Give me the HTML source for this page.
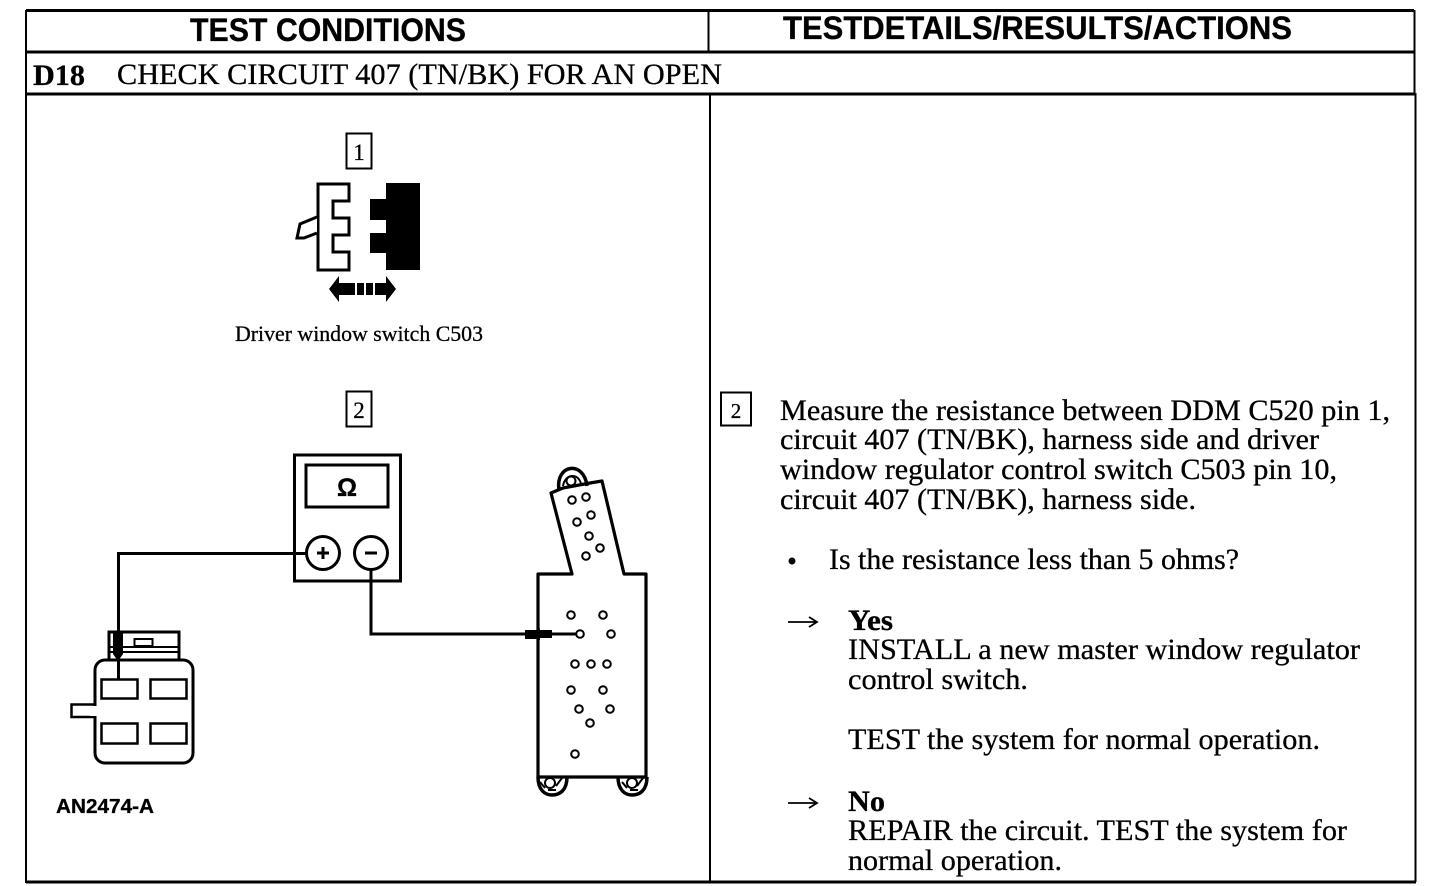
<!DOCTYPE html>
<html>
<head>
<meta charset="utf-8">
<style>
html,body{margin:0;padding:0;background:#fff;width:1456px;height:886px;overflow:hidden}
svg{display:block}
.s{font-family:"Liberation Serif",serif;fill:#000;stroke:#000;stroke-width:.3}
.h{font-family:"Liberation Sans",sans-serif;font-weight:bold;fill:#000;stroke:#000;stroke-width:.3}
.l{fill:none;stroke:#000;stroke-width:3}
.t{fill:none;stroke:#000;stroke-width:2}
.p{fill:#fff;stroke:#000;stroke-width:2.5}
</style>
</head>
<body>
<svg width="1456" height="886" viewBox="0 0 1456 886" xmlns="http://www.w3.org/2000/svg">
<rect width="1456" height="886" fill="#fff"/>

<!-- frame -->
<path class="l" d="M26 10.500H1414"/>
<path class="l" d="M26 52H1415"/>
<path class="l" d="M26 94H1415"/>
<path class="l" d="M26 882H1416"/>
<path class="t" d="M26 10V883"/>
<path class="t" d="M1414.500 10V94L1415.500 94V882"/>
<path class="t" d="M708.500 10V51"/>
<path class="t" d="M710 94V882"/>

<!-- header -->
<text class="h" x="190" y="41" font-size="32" textLength="276" lengthAdjust="spacingAndGlyphs">TEST CONDITIONS</text>
<text class="h" x="783" y="39" font-size="32" textLength="509" lengthAdjust="spacingAndGlyphs">TESTDETAILS/RESULTS/ACTIONS</text>
<text class="s" x="33" y="85" font-size="30" font-weight="bold" textLength="52" lengthAdjust="spacingAndGlyphs">D18</text>
<text class="s" x="117" y="84" font-size="30" textLength="605" lengthAdjust="spacingAndGlyphs">CHECK CIRCUIT 407 (TN/BK) FOR AN OPEN</text>

<!-- label 1 -->
<rect x="346.500" y="133.500" width="25" height="35" class="t"/>
<text class="s" x="359" y="160" font-size="23" text-anchor="middle">1</text>

<!-- connector pair -->
<path d="M318 184H349V201H333V218H349V235H333V252H349V270H318Z" fill="#fff" stroke="#000" stroke-width="3"/>
<path d="M317 217L300 224L297 238H304L317 233" fill="#fff" stroke="#000" stroke-width="3"/>
<path d="M386 183H420V270H386V253H370V233H386V220H370V199H386Z" fill="#000"/>
<path d="M329 289L339 276V302Z" fill="#000"/>
<path d="M396 289L386 276V302Z" fill="#000"/>
<rect x="339" y="283" width="8" height="12" fill="#000"/>
<rect x="347" y="283" width="8" height="12" fill="#000"/>
<rect x="357" y="283" width="7" height="12" fill="#000"/>
<rect x="366" y="283" width="7" height="12" fill="#000"/>
<rect x="375" y="283" width="11" height="12" fill="#000"/>
<text class="s" x="235" y="341" font-size="22" textLength="248" lengthAdjust="spacingAndGlyphs">Driver window switch C503</text>

<!-- label 2 left -->
<rect x="346.500" y="391.500" width="25" height="35" class="t"/>
<text class="s" x="359" y="418" font-size="23" text-anchor="middle">2</text>

<!-- meter -->
<rect x="294.500" y="455" width="106" height="126" class="l"/>
<rect x="306" y="465" width="82" height="42" class="l"/>
<text class="h" x="347" y="496" font-size="25" text-anchor="middle">Ω</text>
<circle cx="323" cy="553" r="16.500" class="l" fill="#fff"/>
<circle cx="371" cy="553" r="16.500" class="l"/>
<path d="M317 553H329M323 547V559" stroke="#000" stroke-width="3"/>
<path d="M365 553H377" stroke="#000" stroke-width="3"/>

<!-- wires -->
<path class="l" d="M306 553.500H118.500V678"/>
<path class="l" d="M371 570V634H530"/>

<!-- left connector -->
<path class="l" d="M109 660V632H179V660"/>
<path class="t" d="M110 647H178M110 652H178"/>
<rect x="134.500" y="639" width="18" height="7" class="t"/>
<path d="M71.500 704.500H96V717H71.500Z" fill="#fff" stroke="#000" stroke-width="2.500"/>
<rect x="95" y="660" width="98" height="103" rx="10" ry="10" fill="#fff" stroke="#000" stroke-width="3"/>
<rect x="90" y="706" width="8" height="10" fill="#fff"/>
<rect x="101.500" y="679.500" width="36" height="19" class="p"/>
<rect x="150.500" y="679.500" width="36" height="19" class="p"/>
<rect x="101.500" y="723.500" width="36" height="20" class="p"/>
<rect x="150.500" y="723.500" width="36" height="20" class="p"/>
<path class="l" d="M118.500 655V680"/>
<path d="M113 632H123V654L118 661L113 654Z" fill="#000"/>

<!-- switch -->
<path d="M551 493L563 488L590 483L602 481L624 574H646V777H620L567 777H538V574H572Z" fill="none" stroke="#000" stroke-width="3.200" stroke-linejoin="round"/>
<path d="M559 490C555 464 584 460 587 486" fill="none" stroke="#000" stroke-width="3.500"/>
<path d="M563 486C565 473 579 473 581 484" fill="none" stroke="#000" stroke-width="2"/>
<circle cx="571" cy="481" r="4.500" fill="#fff" stroke="#000" stroke-width="2"/>
<path d="M538 777C538 790 545 795 552 795C560 795 567 790 567 777" fill="none" stroke="#000" stroke-width="3.500"/>
<path d="M618 777C618 790 625 795 632 795C640 795 647 790 647 777" fill="none" stroke="#000" stroke-width="3.500"/>
<circle cx="550" cy="783" r="5" class="t"/>
<circle cx="632" cy="783" r="5" class="t"/>
<path d="M540 782L545 788M562 778L556 786M548 790L556 790M622 782L627 788M643 778L637 786M630 790L638 790" class="t"/>
<g fill="none" stroke="#000" stroke-width="2">
<circle cx="572" cy="500" r="3.800"/><circle cx="586" cy="497" r="3.800"/>
<circle cx="591" cy="515" r="3.800"/><circle cx="577" cy="522" r="3.800"/>
<circle cx="589" cy="536" r="3.800"/><circle cx="600" cy="548" r="3.800"/>
<circle cx="586" cy="556" r="3.800"/>
<circle cx="571" cy="615" r="3.800"/><circle cx="603" cy="615" r="3.800"/>
<circle cx="580" cy="634" r="3.800"/><circle cx="611" cy="634" r="3.800"/>
<circle cx="575" cy="664" r="3.800"/><circle cx="591" cy="664" r="3.800"/><circle cx="607" cy="664" r="3.800"/>
<circle cx="571" cy="690" r="3.800"/><circle cx="603" cy="690" r="3.800"/>
<circle cx="579" cy="709" r="3.800"/><circle cx="610" cy="709" r="3.800"/>
<circle cx="590" cy="723" r="3.800"/>
<circle cx="575" cy="754" r="3.800"/>
</g>
<path d="M525 630H537V628.500H540V630H552V638H540V640H537V639H525Z" fill="#000"/>
<path d="M552 634H576" stroke="#000" stroke-width="3"/>

<text class="h" x="56" y="813" font-size="20" textLength="98" lengthAdjust="spacingAndGlyphs">AN2474-A</text>

<!-- right panel -->
<rect x="721" y="392.500" width="30" height="33" class="t"/>
<text class="s" x="736" y="418" font-size="21" text-anchor="middle">2</text>

<g class="s" font-size="30">
<text x="780" y="420" textLength="610" lengthAdjust="spacingAndGlyphs">Measure the resistance between DDM C520 pin 1,</text>
<text x="780" y="449" textLength="539" lengthAdjust="spacingAndGlyphs">circuit 407 (TN/BK), harness side and driver</text>
<text x="780" y="479" textLength="557" lengthAdjust="spacingAndGlyphs">window regulator control switch C503 pin 10,</text>
<text x="780" y="509" textLength="416" lengthAdjust="spacingAndGlyphs">circuit 407 (TN/BK), harness side.</text>
<text x="829" y="569" textLength="410" lengthAdjust="spacingAndGlyphs">Is the resistance less than 5 ohms?</text>
<text x="848" y="630" font-weight="bold" textLength="45" lengthAdjust="spacingAndGlyphs">Yes</text>
<text x="848" y="659" textLength="512" lengthAdjust="spacingAndGlyphs">INSTALL a new master window regulator</text>
<text x="848" y="689" textLength="180" lengthAdjust="spacingAndGlyphs">control switch.</text>
<text x="848" y="749" textLength="472" lengthAdjust="spacingAndGlyphs">TEST the system for normal operation.</text>
<text x="848" y="811" font-weight="bold" textLength="37" lengthAdjust="spacingAndGlyphs">No</text>
<text x="848" y="840" textLength="499" lengthAdjust="spacingAndGlyphs">REPAIR the circuit. TEST the system for</text>
<text x="848" y="870" textLength="214" lengthAdjust="spacingAndGlyphs">normal operation.</text>
</g>
<circle cx="792" cy="561" r="3.500" fill="#000"/>
<path d="M788 622H816M809 617L817 622L809 627" fill="none" stroke="#000" stroke-width="1.800"/>
<path d="M788 803H816M809 798L817 803L809 808" fill="none" stroke="#000" stroke-width="1.800"/>
</svg>
</body>
</html>
